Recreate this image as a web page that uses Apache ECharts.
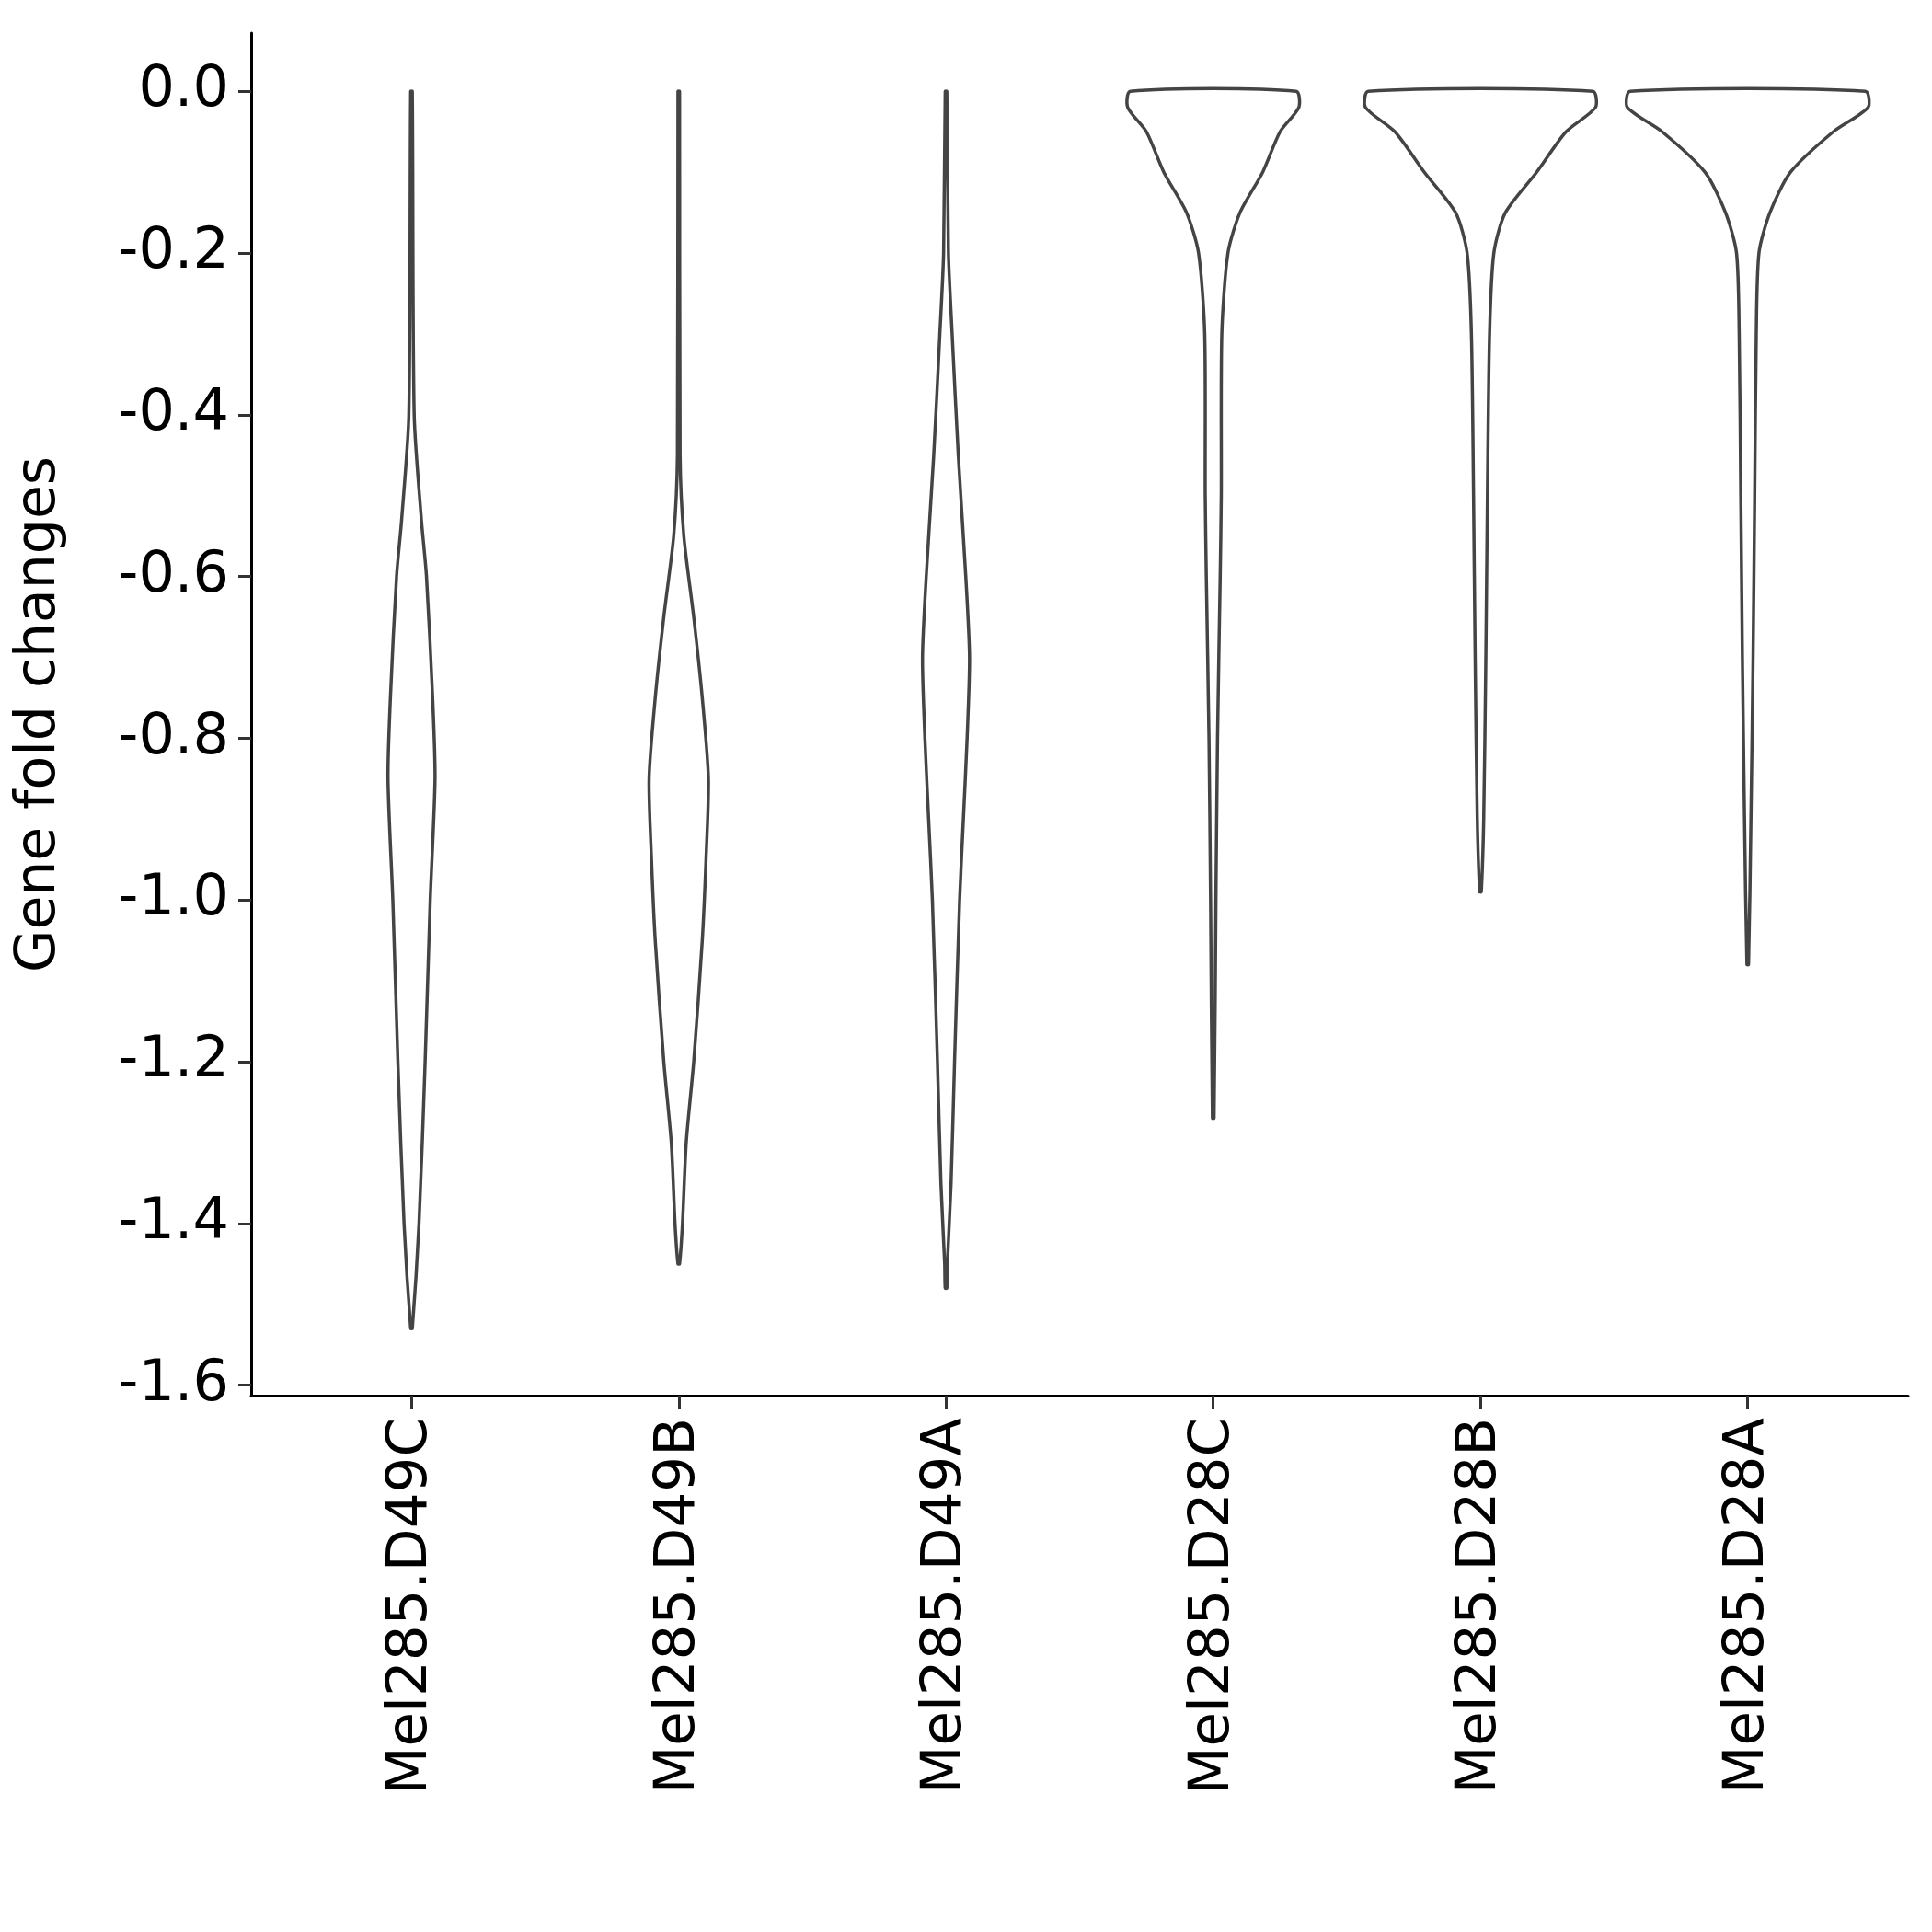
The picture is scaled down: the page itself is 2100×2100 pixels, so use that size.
<!DOCTYPE html>
<html><head><meta charset="utf-8">
<script src="https://cdn.jsdelivr.net/npm/echarts@6/dist/echarts.min.js"></script>
<style>html,body{margin:0;background:#fff}#main{width:2100px;height:2100px}</style>
</head><body><div id="main"></div>
<script>
var categories = ['Mel285.D49C','Mel285.D49B','Mel285.D49A','Mel285.D28C','Mel285.D28B','Mel285.D28A'];
var yTicks = [0,-0.2,-0.4,-0.6,-0.8,-1.0,-1.2,-1.4,-1.6];
// violin outlines: y levels and half-widths (in category units)
var yD49C = [0,-0.4,-0.53,-0.6,-0.75,-0.85,-1.0,-1.2,-1.4,-1.53];
var wD49C = [0.003,0.01,0.037,0.056,0.079,0.088,0.07,0.051,0.028,0.003];
var yD49B = [0,-0.45,-0.55,-0.65,-0.75,-0.85,-0.95,-1.05,-1.2,-1.3,-1.4,-1.45];
var wD49B = [0.003,0.005,0.019,0.056,0.088,0.111,0.102,0.088,0.056,0.028,0.014,0.003];
var yD49A = [0,-0.2,-0.3,-0.45,-0.6,-0.7,-0.8,-0.9,-1.0,-1.2,-1.35,-1.45,-1.48];
var wD49A = [0.003,0.009,0.023,0.046,0.074,0.088,0.079,0.065,0.051,0.032,0.019,0.005,0.003];
var yD28C = [0,-0.02,-0.05,-0.1,-0.15,-0.2,-0.3,-0.5,-0.6,-0.8,-1.0,-1.27];
var wD28C = [0.31,0.32,0.25,0.185,0.1,0.055,0.032,0.03,0.026,0.016,0.01,0.003];
var yD28B = [0,-0.02,-0.05,-0.1,-0.15,-0.2,-0.3,-0.5,-0.7,-0.9,-0.99];
var wD28B = [0.42,0.43,0.32,0.21,0.093,0.05,0.034,0.026,0.02,0.012,0.003];
var yD28A = [0,-0.02,-0.05,-0.1,-0.15,-0.2,-0.3,-0.5,-0.7,-0.9,-1.08];
var wD28A = [0.44,0.45,0.32,0.16,0.083,0.042,0.032,0.026,0.02,0.012,0.003];
var violins = [[yD49C,wD49C],[yD49B,wD49B],[yD49A,wD49A],[yD28C,wD28C],[yD28B,wD28B],[yD28A,wD28A]];

var myChart = echarts.init(document.getElementById('main'));
var font = 'DejaVu Sans';
var option = {
    animation: false,
    grid: {left: 273, right: 26, top: 36, bottom: 583},
    xAxis: {
        type: 'value', min: 0.4, max: 6.6,
        splitLine: {show: false},
        axisLine: {show: true, onZero: false, lineStyle: {color: '#000', width: 3}},
        axisTick: {show: true, customValues: [1,2,3,4,5,6], length: 14, lineStyle: {color: '#333', width: 3}},
        axisLabel: {customValues: [1,2,3,4,5,6], rotate: 90, margin: 24, fontSize: 61, color: '#000', fontFamily: font,
            formatter: function (v) { return categories[Math.round(v) - 1]; }}
    },
    yAxis: {
        type: 'value', min: -1.613, max: 0.072,
        name: 'Gene fold changes', nameLocation: 'middle', nameGap: 200,
        nameTextStyle: {fontSize: 60, color: '#000', fontFamily: font},
        splitLine: {show: false},
        axisLine: {show: true, onZero: false, lineStyle: {color: '#000', width: 3}},
        axisTick: {show: true, customValues: yTicks, length: 14, lineStyle: {color: '#333', width: 3}},
        axisLabel: {customValues: yTicks, margin: 24, fontSize: 62, color: '#000', fontFamily: font,
            formatter: function (v) { return v.toFixed(1); }}
    },
    series: [{
        type: 'custom',
        data: [1,2,3,4,5,6].map(function (i) { return [i]; }),
        renderItem: function (params, api) {
            var i = api.value(0);
            var v = violins[i - 1], ys = v[0], ws = v[1];
            var pts = [];
            for (var k = 0; k < ys.length; k++) pts.push(api.coord([i + ws[k], ys[k]]));
            for (var k = ys.length - 1; k >= 0; k--) pts.push(api.coord([i - ws[k], ys[k]]));
            return {type: 'polygon', shape: {points: pts, smooth: 0.25},
                style: {fill: '#fff', stroke: '#444', lineWidth: 3.5}};
        }
    }]
};
myChart.setOption(option);
</script></body></html>
